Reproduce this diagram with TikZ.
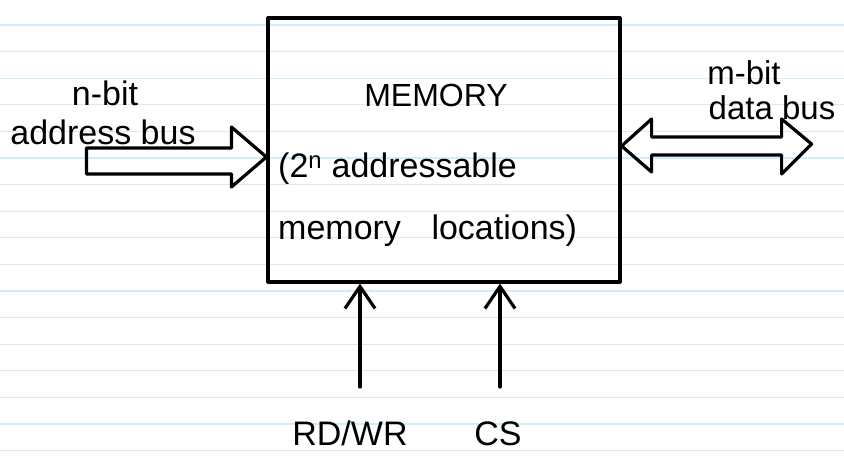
\documentclass[tikz,border=0pt]{standalone}
\usepackage{fontspec}
\setmainfont{Liberation Sans}
\usetikzlibrary{arrows.meta,calc}
\definecolor{ruled}{RGB}{212,235,250}
\begin{document}
\begin{tikzpicture}[x=1pt,y=-1pt,
  ink/.style={line width=3.2pt,line cap=round,line join=round,black},
  sig/.style={ink,-{Straight Barb[length=22pt,width=30pt]}},
  lbl/.style={font=\fontsize{34}{40}\selectfont,inner sep=0pt},
  ruleline/.style={ruled,line width=1.3pt}]
\fill[white] (0,0) rectangle (844,457);
\useasboundingbox (0,0) rectangle (844,457);
% ruled paper
\foreach \k in {0,...,16} \draw[ruleline] (0,{25+26.6*\k}) -- (844,{25+26.6*\k});
% memory block
\node[ink,draw,minimum width=352pt,minimum height=264pt,inner sep=0pt] (mem) at (444,150) {};
\node[lbl,anchor=base,font=\fontsize{32}{36}\selectfont] (title) at (436,107) {MEMORY};
\node[lbl,anchor=base west] (line1) at (278,178) {(2\textsuperscript{n} addressable};
\node[lbl,anchor=base west] (line2) at (278,240) {memory\hspace{0.9em}locations)};
% address bus (block arrow into memory)
\draw[ink] ([yshift=-7pt]mem.west) -- ++(-35,-30) -- ++(0,21) -- ++(-145,0) -- ++(0,26)
  -- ++(145,0) -- ++(0,13) -- cycle;
\node[lbl,anchor=base] (nbit) at (105,106) {n-bit};
\node[lbl,anchor=base] (abus) at (103,145) {address bus};
% data bus (double block arrow)
\draw[ink] ([yshift=4pt]mem.east) -- ++(30,-27) -- ++(0,18) -- ++(130,0) -- ++(0,-18)
  -- ++(30,25) -- ++(-30,30) -- ++(0,-19) -- ++(-130,0) -- ++(0,17) -- cycle;
\node[lbl,anchor=base,font=\fontsize{33}{38}\selectfont] (mbit) at (744,85) {m-bit};
\node[lbl,anchor=base,font=\fontsize{33}{38}\selectfont] (dbus) at (772,120) {data bus};
% control inputs
\node[lbl,anchor=base] (rdwr) at (350,445) {RD/WR};
\node[lbl,anchor=base] (csl) at (498,445) {CS};
\coordinate (rwfoot) at (360,387);
\coordinate (csfoot) at (500,387);
\draw[sig] (rwfoot) -- (rwfoot |- mem.south);
\draw[sig] (csfoot) -- (csfoot |- mem.south);
\end{tikzpicture}
\end{document}
